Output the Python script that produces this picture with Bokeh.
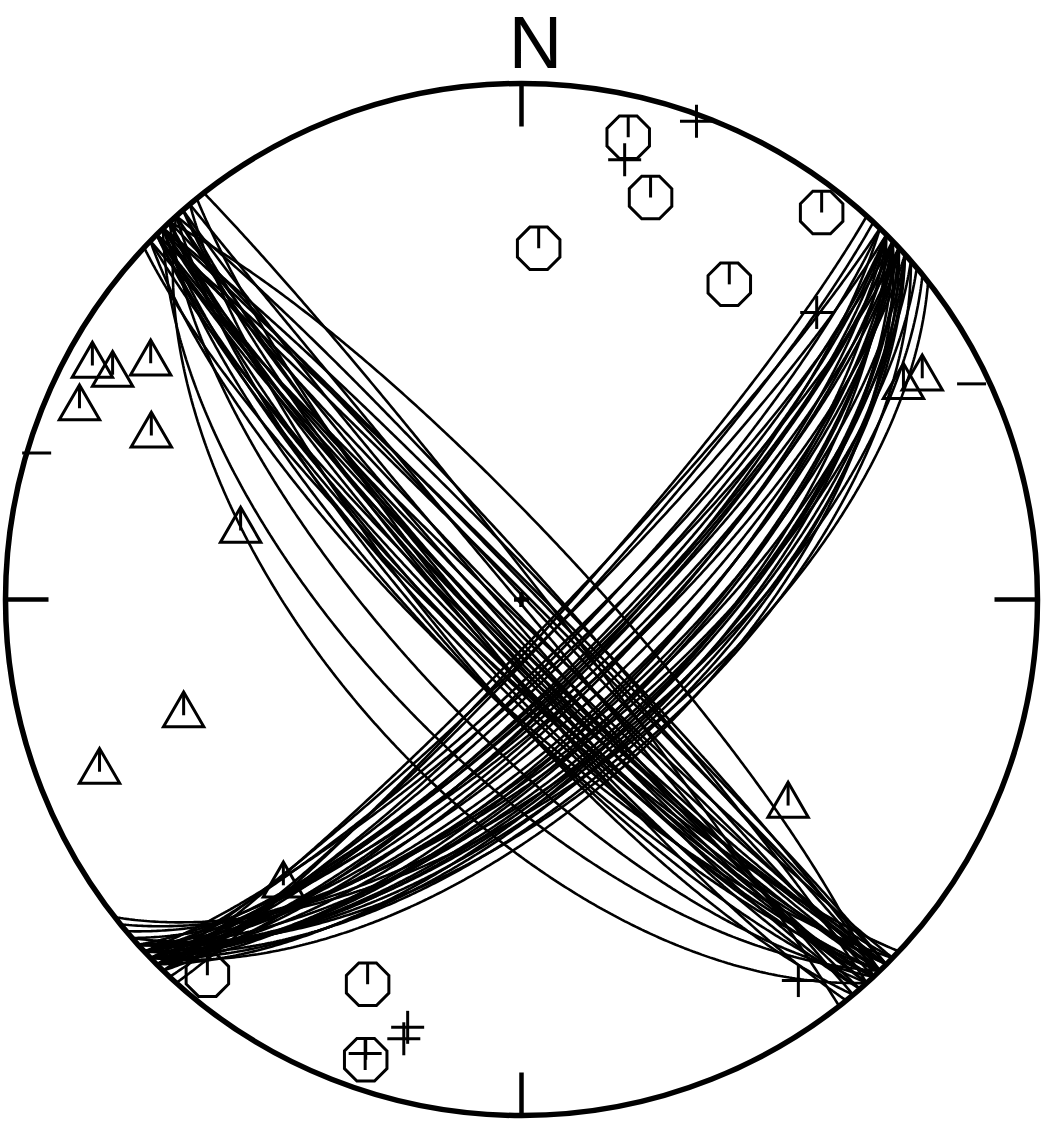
import numpy as np
from bokeh.plotting import figure
from bokeh.models import Range1d
from bokeh.core.properties import value
from bokeh.embed import file_html
from bokeh.resources import INLINE

# ---------------- data (lower hemisphere, equal-area) ----------------
# Set A: NW-SE striking planes (right-hand-rule strike, dip)
set_a_strike = [138, 136, 137, 134, 136, 133, 138, 135, 140, 134, 137, 135, 139,
                136, 141, 134, 138, 136, 139, 315, 317, 140, 316, 318, 322, 317,
                136, 137, 135, 138, 316, 135, 137, 135, 139, 315, 136]
set_a_dip = [59.5, 65, 70.5, 76, 76, 79.5, 76.5, 79.5, 77, 82, 81, 83.5, 81,
             84.5, 81.5, 87.5, 85.5, 88, 87, 89, 89.5, 89.5, 86, 85.5, 87, 80,
             83, 82, 80.5, 84, 88, 86, 79, 84.5, 83, 87.5, 78]
# Set B: NE-SW striking planes dipping SE
set_b_strike = [42, 44, 43, 45, 44, 46, 45, 47, 44, 46, 45, 47, 46, 48,
                45, 47, 46, 48, 45, 49, 47, 50, 48, 46, 51, 49, 52,
                46, 47, 45, 46, 47, 46, 48, 45, 47, 46, 48, 47]
set_b_dip = [84, 84.5, 83, 83, 80, 80.5, 78.5, 79, 75.5, 76.5, 75, 75.5, 73, 73,
             68.5, 69.5, 67, 68, 64, 67, 64, 66, 63, 59.5, 63.5, 60, 61.5,
             76, 74, 72.5, 66.5, 64.5, 62.5, 62, 77, 71, 69, 65, 61]

# Axes / poles (trend, plunge in degrees)
oct_trend = [13.0, 17.8, 2.8, 37.8, 33.4, 219.9, 201.8, 198.7]
oct_plunge = [8.9, 19.3, 32.4, 5.7, 27.7, 5.7, 20.8, 6.5]
tri_trend = [298.6, 298.8, 302.5, 293.4, 293.9, 283.8, 251.1, 247.8, 219.8, 127.7, 61.1, 60.9]
tri_plunge = [5.9, 10.5, 15.9, 7.4, 22.6, 43.3, 31.4, 12.7, 28.7, 35.0, 12.3, 16.4]
plus_trend = [20.1, 13.2, 45.8, 144.0, 194.9, 195.0, 199.0]
plus_plunge = [1.5, 13.5, 21.3, 9.6, 15.3, 12.9, 7.7]
minus_trend = [64.4, 286.8]
minus_plunge = [3.7, 2.1]

R = 516.0


def project(trend, plunge):
    t = np.radians(np.asarray(trend, float))
    p_ = np.radians(np.asarray(plunge, float))
    r = R * np.sqrt(np.clip(1 - np.sin(p_), 0, None))
    return r * np.sin(t), r * np.cos(t)


def great_circle(strike, dip, n=361):
    s = np.radians(strike)
    d = np.radians(dip)
    dd = s + np.pi / 2
    th = np.linspace(0, np.pi, n)
    e = np.cos(th) * np.sin(s) + np.sin(th) * np.cos(d) * np.sin(dd)
    nn = np.cos(th) * np.cos(s) + np.sin(th) * np.cos(d) * np.cos(dd)
    dn = np.sin(th) * np.sin(d)
    h = np.hypot(e, nn)
    h[h == 0] = 1e-12
    r = R * np.sqrt(np.clip(1 - dn, 0, None))
    return list(r * e / h), list(r * nn / h)


p = figure(width=1046, height=1121, x_range=Range1d(-521, 525), y_range=Range1d(-522, 599),
           output_backend="svg", toolbar_location=None, min_border=0,
           x_axis_location=None, y_axis_location=None, outline_line_color=None)
p.xgrid.visible = False
p.ygrid.visible = False

# great circles
gxs, gys = [], []
for s, d in list(zip(set_a_strike, set_a_dip)) + list(zip(set_b_strike, set_b_dip)):
    x, y = great_circle(s, d)
    gxs.append(x)
    gys.append(y)
p.multi_line(gxs, gys, line_color="black", line_width=2.6)

# primitive circle and cardinal ticks
p.circle(x=[0], y=[0], radius=R, fill_color=None, line_color="black", line_width=5.5)
tl = 43
p.segment(x0=[0, R, 0, -R], y0=[R, 0, -R, 0], x1=[0, R - tl, 0, -R + tl], y1=[R - tl, 0, -R + tl, 0],
          line_color="black", line_width=4.5)

# octagons
ox, oy = project(oct_trend, oct_plunge)
ang = np.radians(22.5 + 45 * np.arange(8))
ro = 23.0
p.patches([list(x + ro * np.cos(ang)) for x in ox], [list(y + ro * np.sin(ang)) for y in oy],
          fill_color=None, line_color="black", line_width=3, line_join="miter")
p.segment(ox, oy, ox, oy + ro * np.cos(np.radians(22.5)), line_color="black", line_width=3)

# triangles
tx, ty = project(tri_trend, tri_plunge)
rt = 23.3
tang = np.radians([90, 210, 330])
p.patches([list(x + rt * np.cos(tang)) for x in tx], [list(y + rt * np.sin(tang)) for y in ty],
          fill_color=None, line_color="black", line_width=3, line_join="miter")
p.segment(tx, ty, tx, ty + rt, line_color="black", line_width=3)

# plus signs
px, py = project(plus_trend, plus_plunge)
hp = 16.5
p.segment(px - hp, py, px + hp, py, line_color="black", line_width=3)
p.segment(px, py - hp, px, py + hp, line_color="black", line_width=3)

# minus signs
mx, my = project(minus_trend, minus_plunge)
hm = 14.5
p.segment(mx - hm, my, mx + hm, my, line_color="black", line_width=3)

# centre mark
p.segment([-7.5, 0], [0, -7.5], [7.5, 0], [0, 7.5], line_color="black", line_width=4.5)

# north label
p.text(x=[14], y=[557], text=["N"], text_font=value("Liberation Sans"),
       text_font_size="74px", text_align="center", text_baseline="alphabetic", text_color="black")

open("out.html", "w").write(file_html(p, INLINE))
